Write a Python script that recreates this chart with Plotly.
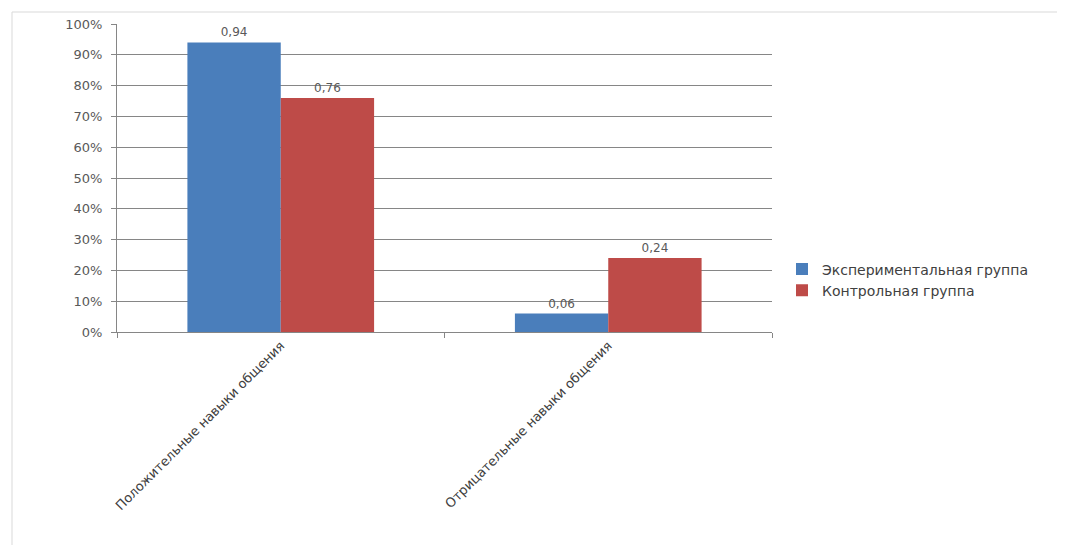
import plotly.graph_objects as go

categories = ["Положительные навыки общения", "Отрицательные навыки общения"]
series_names = ["Экспериментальная группа", "Контрольная группа"]
exp_values = [0.94, 0.06]
ctrl_values = [0.76, 0.24]
colors = ["#4a7ebb", "#be4b48"]
y_ticks = [0, 0.1, 0.2, 0.3, 0.4, 0.5, 0.6, 0.7, 0.8, 0.9, 1.0]

fig = go.Figure()
for name, vals, col in zip(series_names, [exp_values, ctrl_values], colors):
    fig.add_trace(go.Bar(
        x=categories, y=vals, name=name, marker_color=col,
        marker_line_width=0,
        text=vals, texttemplate="%{y:.2f}", textposition="outside",
        textfont=dict(size=12, color="#595959"), cliponaxis=False,
    ))

OFF = 8  # page offset of the figure inside the browser window
W, H = 1065 - OFF, 545 - OFF
L, R, T, B = 117 - OFF, 293, 24 - OFF, 213
PW, PH = W - L - R, H - T - B
fig.update_layout(
    width=W, height=H,
    separators=", ",
    barmode="group", bargap=0.43, bargroupgap=0,
    paper_bgcolor="white", plot_bgcolor="white",
    margin=dict(l=L, r=R, t=T, b=B, autoexpand=False),
    font=dict(family="DejaVu Sans", size=12, color="#595959"),
    showlegend=True,
    legend=dict(x=(782 - 117) / PW, y=(332 - 280) / PH, xanchor="left", yanchor="middle",
                font=dict(size=14, color="#404040"), tracegroupgap=0,
                itemwidth=30),
    xaxis=dict(showline=True, linecolor="#868686", linewidth=1,
               ticks="outside", tickson="boundaries", ticklen=5, tickcolor="#868686",
               tickangle=-45, tickfont=dict(size=13, color="#404040"),
               showgrid=False, automargin=False),
    yaxis=dict(range=[0, 1.0], tickvals=y_ticks, tickformat=".0%",
               showline=True, linecolor="#868686", linewidth=1,
               ticks="outside", ticklen=5, tickcolor="#868686",
               ticklabelstandoff=6,
               showgrid=True, gridcolor="#868686", gridwidth=1,
               zeroline=False, tickfont=dict(size=13, color="#595959"),
               automargin=False),
)
fig.add_shape(type="rect", xref="paper", yref="paper",
              x0=-(L - 4) / PW, x1=1 + (R - 2) / PW,
              y0=-(B + 10) / PH, y1=1 + (T - 4) / PH,
              line=dict(color="#d9d9d9", width=1), layer="below")
fig.write_html("out.html")
